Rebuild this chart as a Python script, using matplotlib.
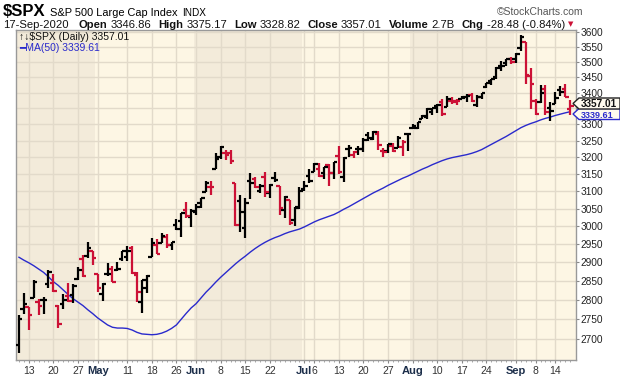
import numpy as np
import pandas as pd
import matplotlib
matplotlib.use("Agg")
import matplotlib.pyplot as plt
from matplotlib.patches import Polygon
from matplotlib.transforms import IdentityTransform
from matplotlib.ticker import FixedLocator, NullLocator, FuncFormatter

plt.rcParams['font.family'] = ['Liberation Sans', 'DejaVu Sans']

# trading days shown (Apr 8 - Sep 17 2020), market holidays removed
dates = pd.bdate_range("2020-04-08", "2020-09-17")
holidays = pd.to_datetime(["2020-04-10", "2020-05-25", "2020-07-03", "2020-09-07"])
dates = dates[~dates.isin(holidays)]

opens = [2685.00, 2776.99, 2782.46, 2805.10, 2795.64, 2799.34, 2842.43, 2845.62, 2784.81, 2787.89,
         2810.42, 2812.64, 2854.65, 2909.96, 2918.46, 2930.91, 2869.09, 2815.01, 2868.88, 2883.14,
         2878.26, 2908.83, 2915.46, 2939.50, 2865.86, 2794.54, 2829.95, 2913.86, 2948.59, 2953.63,
         2969.95, 2948.05, 3004.08, 3015.65, 3046.61, 3025.17, 3038.78, 3064.78, 3098.90, 3111.56,
         3163.84, 3199.92, 3213.32, 3213.42, 3123.53, 3071.04, 2993.76, 3131.00, 3136.13, 3101.64,
         3140.29, 3094.42, 3138.70, 3114.40, 3046.60, 3073.20, 3018.59, 3050.20, 3105.92, 3143.64,
         3155.29, 3166.44, 3153.07, 3176.17, 3152.47, 3205.08, 3141.11, 3225.98, 3208.36, 3224.21,
         3224.29, 3268.52, 3254.86, 3271.64, 3218.58, 3219.84, 3234.27, 3227.22, 3231.76, 3270.45,
         3288.26, 3289.92, 3317.37, 3323.17, 3340.05, 3356.04, 3370.34, 3355.46, 3372.95, 3368.66,
         3380.86, 3387.04, 3392.51, 3360.48, 3386.01, 3418.09, 3435.95, 3449.97, 3485.14, 3494.69,
         3509.73, 3507.44, 3543.76, 3564.74, 3453.60, 3371.88, 3369.82, 3412.53, 3352.70, 3363.56,
         3407.73, 3411.23, 3346.86]
highs = [2760.75, 2818.57, 2782.46, 2851.85, 2801.88, 2806.51, 2879.22, 2868.98, 2785.54, 2815.10,
         2844.90, 2842.71, 2887.72, 2921.15, 2954.86, 2930.91, 2869.09, 2844.24, 2898.23, 2891.11,
         2901.92, 2932.16, 2944.25, 2945.82, 2874.14, 2852.80, 2865.01, 2968.09, 2964.21, 2980.29,
         2978.50, 2956.76, 3021.72, 3036.25, 3068.67, 3049.17, 3062.18, 3081.07, 3130.94, 3128.91,
         3211.72, 3233.13, 3222.71, 3223.27, 3123.53, 3088.42, 3079.76, 3153.45, 3141.16, 3120.00,
         3155.53, 3120.92, 3154.90, 3115.01, 3086.25, 3073.73, 3053.89, 3111.51, 3128.44, 3165.81,
         3182.59, 3184.15, 3171.80, 3179.78, 3186.82, 3235.32, 3200.95, 3238.28, 3220.39, 3233.52,
         3258.61, 3277.29, 3279.32, 3279.99, 3227.26, 3241.43, 3243.72, 3264.74, 3250.92, 3272.17,
         3302.73, 3306.84, 3330.77, 3351.03, 3352.54, 3363.29, 3381.01, 3387.89, 3387.24, 3378.51,
         3387.59, 3395.06, 3399.54, 3390.80, 3399.96, 3432.09, 3444.21, 3481.07, 3501.38, 3509.23,
         3514.77, 3528.03, 3588.11, 3564.85, 3479.15, 3379.97, 3424.77, 3425.30, 3368.95, 3402.93,
         3419.48, 3428.92, 3375.17]
lows = [2663.30, 2762.36, 2721.17, 2805.10, 2761.54, 2764.32, 2830.88, 2820.43, 2727.10, 2775.95,
        2794.26, 2791.76, 2852.89, 2860.71, 2912.16, 2892.47, 2821.61, 2797.85, 2863.55, 2847.65,
        2876.48, 2902.88, 2903.44, 2869.59, 2793.15, 2766.64, 2816.78, 2913.86, 2922.35, 2953.63,
        2938.57, 2933.59, 2988.17, 2969.75, 3023.40, 2998.61, 3031.54, 3051.64, 3098.90, 3090.41,
        3163.84, 3196.00, 3193.11, 3181.49, 2999.49, 2984.47, 2965.66, 3076.06, 3108.03, 3093.51,
        3083.11, 3079.39, 3127.12, 3032.13, 3024.01, 3004.63, 2999.74, 3047.83, 3101.17, 3124.52,
        3155.29, 3142.93, 3136.53, 3115.70, 3136.22, 3149.43, 3127.66, 3200.76, 3198.59, 3205.65,
        3215.16, 3247.77, 3253.10, 3222.66, 3200.05, 3214.25, 3216.17, 3227.22, 3204.13, 3220.26,
        3284.53, 3286.37, 3317.37, 3318.14, 3328.72, 3335.44, 3326.44, 3355.46, 3363.35, 3361.64,
        3379.22, 3370.15, 3369.66, 3354.69, 3379.31, 3413.13, 3425.84, 3444.15, 3468.35, 3484.32,
        3493.25, 3494.60, 3535.23, 3427.41, 3349.63, 3329.27, 3366.84, 3329.25, 3310.47, 3363.56,
        3389.25, 3384.45, 3328.82]
closes = [2749.98, 2789.82, 2761.63, 2846.06, 2783.36, 2799.55, 2874.56, 2823.16, 2736.56, 2799.31,
          2797.80, 2836.74, 2878.48, 2863.39, 2939.51, 2912.43, 2830.71, 2842.74, 2868.44, 2848.42,
          2881.19, 2929.80, 2930.32, 2870.12, 2820.00, 2852.50, 2863.70, 2953.91, 2922.94, 2971.61,
          2948.51, 2955.45, 2991.77, 3036.13, 3029.73, 3044.31, 3055.73, 3080.82, 3122.87, 3112.35,
          3193.93, 3232.39, 3207.18, 3190.14, 3002.10, 3041.31, 3066.59, 3124.74, 3113.49, 3115.34,
          3097.74, 3117.86, 3131.29, 3050.33, 3083.76, 3009.05, 3053.24, 3100.29, 3115.86, 3130.01,
          3179.72, 3145.32, 3169.94, 3152.05, 3185.04, 3155.22, 3197.52, 3226.56, 3215.57, 3224.73,
          3251.84, 3257.30, 3276.02, 3235.66, 3215.63, 3239.41, 3218.44, 3258.44, 3246.22, 3271.12,
          3294.61, 3306.51, 3327.77, 3349.16, 3351.28, 3360.47, 3333.69, 3380.35, 3373.43, 3372.85,
          3381.99, 3389.78, 3374.85, 3385.51, 3397.16, 3431.28, 3443.62, 3478.73, 3484.55, 3508.01,
          3500.31, 3526.65, 3580.84, 3455.06, 3426.96, 3331.84, 3398.96, 3339.19, 3340.97, 3383.54,
          3401.20, 3385.49, 3357.01]
# 50 day moving average
ma50 = [2914, 2906, 2899, 2891, 2882, 2873, 2861, 2848, 2838, 2826,
        2814, 2803, 2794, 2785, 2774, 2764, 2753, 2744, 2735, 2729,
        2727, 2727, 2726, 2722, 2716, 2712, 2711, 2710, 2711, 2714,
        2719, 2726, 2735, 2750, 2765, 2779, 2790, 2805, 2820, 2833,
        2847, 2860, 2872, 2884, 2896, 2907, 2917, 2928, 2938, 2947,
        2955, 2962, 2968, 2973, 2979, 2984, 2988, 2992, 2998, 3005,
        3012, 3018, 3023, 3028, 3033, 3040, 3048, 3055, 3063, 3071,
        3079, 3087, 3095, 3102, 3109, 3117, 3124, 3131, 3138, 3144,
        3151, 3158, 3165, 3171, 3178, 3184, 3190, 3195, 3199, 3202,
        3205, 3208, 3212, 3217, 3223, 3231, 3239, 3247, 3255, 3263,
        3272, 3281, 3290, 3297, 3303, 3308, 3314, 3319, 3323, 3328,
        3332, 3336, 3339.61]

tick_dates = ["2020-04-13", "2020-04-20", "2020-04-27", "2020-05-01", "2020-05-11", "2020-05-18",
              "2020-05-26", "2020-06-01", "2020-06-08", "2020-06-15", "2020-06-22", "2020-07-01",
              "2020-07-06", "2020-07-13", "2020-07-20", "2020-07-27", "2020-08-03", "2020-08-10",
              "2020-08-17", "2020-08-24", "2020-09-01", "2020-09-08", "2020-09-14"]
tick_labels = ["13", "20", "27", "May", "11", "18", "26", "Jun", "8", "15", "22", "Jul",
               "6", "13", "20", "27", "Aug", "10", "17", "24", "Sep", "8", "14"]
month_starts = ["2020-05-01", "2020-06-01", "2020-07-01", "2020-08-03", "2020-09-01"]
yticks = list(range(2700, 3601, 50))
hidden_ylabels = [3350]   # covered by the last-value tag

RED = "#CC1136"
BLUE = "#2A2ACC"
DARK = "#F3EBDA"
LIGHT = "#FDF6E4"
GRID = "#E2DACA"
W, H = 620, 376

fig = plt.figure(figsize=(W / 100, H / 100), dpi=100)
ax = fig.add_axes([16 / W, 1 - 360 / H, 560 / W, 330.5 / H])

x = np.arange(len(dates))
xmin, xmax = -0.6, 113.2
ax.set_facecolor(LIGHT)
ax.set_yscale("log")
ax.set_xlim(xmin, xmax)
ax.set_ylim(2646.6, 3607)

# alternating month shading
pos = {d: i for i, d in enumerate(dates.strftime("%Y-%m-%d"))}
edges = [xmin] + [pos[d] - 0.5 for d in month_starts] + [xmax]
for k in range(len(edges) - 1):
    ax.axvspan(edges[k], edges[k + 1], color=DARK if k % 2 == 0 else LIGHT, lw=0, zorder=0)

tpos = [pos[d] for d in tick_dates]
for t in tpos:
    ax.axvline(t, color=GRID, lw=1, zorder=1)
for v in yticks:
    ax.axhline(v, color=GRID, lw=1, zorder=1)

# bar colour by change from previous close
prev = np.r_[closes[0] - 1, closes[:-1]]
cols = np.where(np.array(closes) >= prev, "black", RED)

ax.plot(x, ma50, color=BLUE, lw=1, zorder=2)
ax.vlines(x, lows, highs, colors=cols, lw=1.6, zorder=3)
ax.hlines(opens, x - 0.72, x, colors=cols, lw=1.6, zorder=3)
ax.hlines(closes, x, x + 0.72, colors=cols, lw=1.6, zorder=3)

# axes
ax.yaxis.tick_right()
ax.yaxis.set_major_locator(FixedLocator(yticks))
ax.yaxis.set_minor_locator(NullLocator())
ax.yaxis.set_major_formatter(FuncFormatter(lambda v, p: "" if round(v) in hidden_ylabels else "%d" % v))
ax.tick_params(axis="y", which="major", length=2, width=0.8, color="#888888",
               labelsize=7.3, labelcolor="#222222", pad=1.5)
ax.set_xticks(tpos, tick_labels)
ax.xaxis.set_minor_locator(FixedLocator(x))
ax.tick_params(axis="x", which="major", length=2, color="#888888", labelsize=7.5,
               labelcolor="#333333", pad=2)
ax.tick_params(axis="x", which="minor", length=1.5, color="#999999")
for lab in ax.get_xticklabels():
    if lab.get_text() in ("May", "Jun", "Jul", "Aug", "Sep"):
        lab.set_fontweight("bold")
        lab.set_color("#1C2E4A")
        lab.set_fontsize(8)
for s in ax.spines.values():
    s.set_color("#999999")
    s.set_linewidth(1)

# header
r = fig.canvas.get_renderer()


def put(px, py, s, **kw):
    t = fig.text(px / W, 1 - py / H, s, va="baseline", **kw)
    return t.get_window_extent(renderer=r).x1


xe = put(3, 16.5, "$SPX", fontsize=12, fontweight="bold")
xe = put(xe + 4, 16.5, "S&P 500 Large Cap Index", fontsize=7.9)
put(xe + 5, 16.5, "INDX", fontsize=7.2)
fig.text(583 / W, 1 - 15 / H, "\u00a9StockCharts.com", fontsize=7.5, color="#555555",
         ha="right", va="baseline")

parts = [("17-Sep-2020", False), ("Open", True), ("3346.86", False), ("High", True),
         ("3375.17", False), ("Low", True), ("3328.82", False), ("Close", True),
         ("3357.01", False), ("Volume", True), ("2.7B", False), ("Chg", True),
         ("-28.48 (-0.84%)", False)]
xe = 3
for k, (s, b) in enumerate(parts):
    gap = 0 if k == 0 else (10 if k == 1 else (7 if b else 3))
    xe = put(xe + gap, 27.5, s, fontsize=8.1, fontweight="bold" if b else "normal", color="#111111")
put(xe + 3, 26.5, "\u25bc", fontsize=5, color=RED, family="DejaVu Sans")

# legend inside plot
put(19, 40, "\u2191\u2193$SPX (Daily) 3357.01", fontsize=7.5, color="#111111")
put(19, 51, "\u2501MA(50) 3339.61", fontsize=7.5, color=BLUE)


# last value tags on the right
def tag(py, s, ec, tc, z, fs):
    pts = [(573, H - py), (579, H - py + 5.5), (620, H - py + 5.5), (620, H - py - 5.5),
           (579, H - py - 5.5)]
    fig.add_artist(Polygon(pts, closed=True, transform=IdentityTransform(), fc="#FFFBEF",
                           ec=ec, lw=1, zorder=z))
    fig.text(581 / W, 1 - (py + 3.5) / H, s, fontsize=fs, fontweight="bold", color=tc,
             va="baseline", zorder=z + 0.1)


tag(114, "3339.61", BLUE, BLUE, 5, 6.5)
tag(103.5, "3357.01", "#222222", "#111111", 6, 7.2)

fig.savefig("out.png", dpi=100, facecolor="white")
